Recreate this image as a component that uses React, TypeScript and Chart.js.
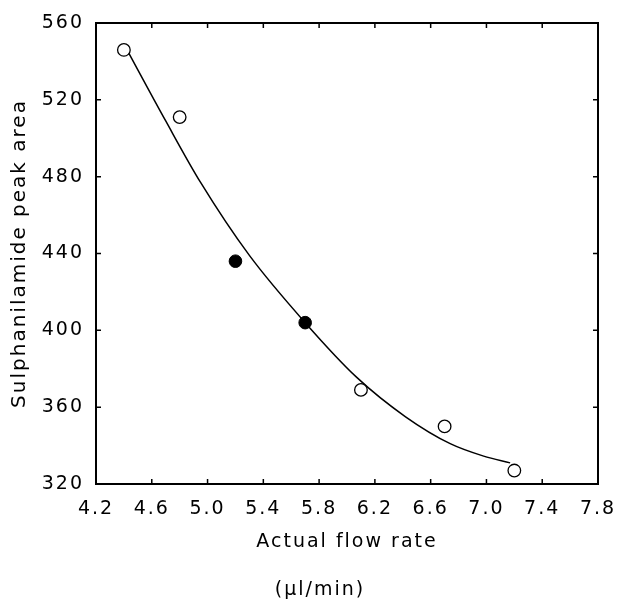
import React, { useEffect, useRef } from 'react';
import { Chart, registerables } from 'chart.js';

Chart.register(...registerables);

// Fitted curve
const curveX = [4.4, 4.7, 4.95, 5.3, 5.7, 6.07, 6.42, 6.74, 6.98, 7.17];
const curveY = [549, 509, 477, 439, 404, 375.5, 355, 341, 334.5, 331];
// Open circles
const openX = [4.4, 4.8, 6.1, 6.7, 7.2];
const openY = [546, 511, 369, 350, 327];
// Filled circles
const filledX = [5.2, 5.7];
const filledY = [436, 404];
// Tick values
const xTicks = [4.2, 4.6, 5.0, 5.4, 5.8, 6.2, 6.6, 7.0, 7.4, 7.8];
const yTicks = [320, 360, 400, 440, 480, 520, 560];

const xTitle = 'Actual flow rate';
const xUnit = '(μl/min)';
const yTitle = 'Sulphanilamide peak area';

const FONT = '"DejaVu Sans", sans-serif';
const SPACING = '2px';

const framePlugin = {
  id: 'frame',
  beforeLayout(chart: any) {
    chart.ctx.letterSpacing = SPACING;
  },
  beforeDraw(chart: any) {
    const ctx = chart.ctx;
    ctx.save();
    ctx.fillStyle = '#fff';
    ctx.fillRect(0, 0, chart.width, chart.height);
    ctx.restore();
    ctx.letterSpacing = SPACING;
  },
  afterDraw(chart: any) {
    const { ctx, chartArea: a, scales } = chart;
    ctx.save();
    ctx.strokeStyle = '#000';
    ctx.lineWidth = 2;
    ctx.strokeRect(a.left, a.top, a.right - a.left, a.bottom - a.top);
    ctx.lineWidth = 1.5;
    const len = 5;
    ctx.beginPath();
    scales.x.ticks.forEach((t: any) => {
      const px = scales.x.getPixelForValue(t.value);
      ctx.moveTo(px, a.bottom);
      ctx.lineTo(px, a.bottom - len);
      ctx.moveTo(px, a.top);
      ctx.lineTo(px, a.top + len);
    });
    scales.y.ticks.forEach((t: any) => {
      const py = scales.y.getPixelForValue(t.value);
      ctx.moveTo(a.left, py);
      ctx.lineTo(a.left + len, py);
      ctx.moveTo(a.right, py);
      ctx.lineTo(a.right - len, py);
    });
    ctx.stroke();
    ctx.letterSpacing = SPACING;
    ctx.font = `19px ${FONT}`;
    ctx.fillStyle = '#000';
    ctx.textAlign = 'center';
    ctx.textBaseline = 'middle';
    ctx.fillText(xUnit, 320, 590);
    ctx.restore();
  },
};

export default function App() {
  const ref = useRef<HTMLCanvasElement>(null);
  useEffect(() => {
    if (!ref.current) return;
    Chart.defaults.font.family = FONT;
    Chart.defaults.color = '#000';
    const chart = new Chart(ref.current, {
      type: 'scatter',
      data: {
        datasets: [
          {
            type: 'line',
            data: curveX.map((x, i) => ({ x, y: curveY[i] })),
            borderColor: '#000',
            borderWidth: 1.5,
            pointRadius: 0,
            cubicInterpolationMode: 'monotone',
            fill: false,
            order: 3,
          } as any,
          {
            data: openX.map((x, i) => ({ x, y: openY[i] })),
            pointRadius: 6.3,
            pointBackgroundColor: '#fff',
            pointBorderColor: '#000',
            pointBorderWidth: 1.3,
            order: 1,
          },
          {
            data: filledX.map((x, i) => ({ x, y: filledY[i] })),
            pointRadius: 6.3,
            pointBackgroundColor: '#000',
            pointBorderColor: '#000',
            pointBorderWidth: 1,
            order: 2,
          },
        ],
      },
      options: {
        animation: false,
        responsive: false,
        layout: { padding: { top: 23, right: 19, left: 0, bottom: 0 } },
        plugins: { legend: { display: false }, tooltip: { enabled: false } },
        scales: {
          x: {
            type: 'linear',
            min: xTicks[0],
            max: xTicks[xTicks.length - 1],
            afterBuildTicks: (s: any) => {
              s.ticks = xTicks.map((v) => ({ value: v }));
            },
            afterFit: (s: any) => {
              s.height = 116;
              s.paddingLeft = 0;
              s.paddingRight = 0;
            },
            grid: { display: false, drawTicks: false },
            border: { display: false },
            ticks: {
              padding: 14,
              maxRotation: 0,
              autoSkip: false,
              font: { size: 19 },
              color: '#000',
              callback: (v: any) => Number(v).toFixed(1),
            },
            title: {
              display: true,
              text: xTitle,
              font: { size: 19 },
              color: '#000',
              padding: { top: 0, bottom: 47 },
            },
          },
          y: {
            type: 'linear',
            min: yTicks[0],
            max: yTicks[yTicks.length - 1],
            afterBuildTicks: (s: any) => {
              s.ticks = yTicks.map((v) => ({ value: v }));
            },
            afterFit: (s: any) => {
              s.width = 96;
              s.paddingTop = 0;
              s.paddingBottom = 0;
            },
            grid: { display: false, drawTicks: false },
            border: { display: false },
            ticks: {
              padding: 12,
              autoSkip: false,
              font: { size: 19 },
              color: '#000',
            },
            title: {
              display: true,
              text: yTitle,
              font: { size: 20 },
              color: '#000',
              padding: { top: 8, bottom: 0 },
            },
          },
        },
      },
      plugins: [framePlugin],
    });
    return () => chart.destroy();
  }, []);
  return (
    <div style={{ position: 'absolute', left: 0, top: 0, width: 617, height: 600 }}>
      <canvas ref={ref} width={617} height={600} style={{ display: 'block' }} />
    </div>
  );
}
